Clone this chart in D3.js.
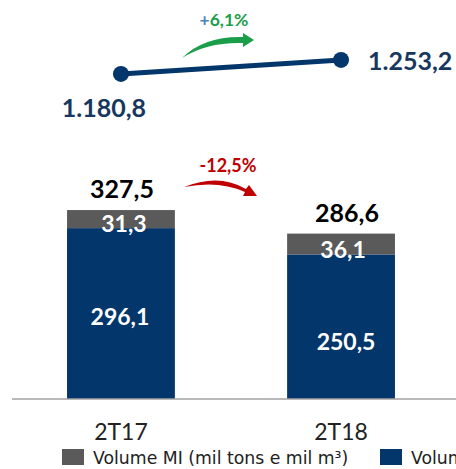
<!DOCTYPE html>
<html><head><meta charset="utf-8">
<script src="https://cdn.jsdelivr.net/npm/d3@7"></script>
<style>html,body{margin:0;padding:0;background:#fff;overflow:hidden}svg{display:block}</style>
</head><body><svg id="c" width="456" height="469"></svg>
<script>
const categories = ["2T17", "2T18"];
const volumeMI = [31.3, 36.1];
const volumeME = [296.1, 250.5];
const totals = [327.5, 286.6];
const lineValues = [1180.8, 1253.2];
const lineLabels = ["1.180,8", "1.253,2"];
const barLabelsMI = ["31,3", "36,1"];
const barLabelsME = ["296,1", "250,5"];
const totalLabels = ["327,5", "286,6"];
const changeLine = "+6,1%";
const changeBars = "-12,5%";
const legendLabels = ["Volume MI (mil tons e mil m³)", "Volume ME (mil tons e mil m³)"];

const FONT = "'Lato','Open Sans',sans-serif";
const BLUE = "#03366a", GRAY = "#5a5a5a", NAVY_TXT = "#17375e";
const svg = d3.select("#c");

const x = d3.scaleBand().domain(categories).range([3, 459]).paddingInner(0.51).paddingOuter(0.291);
const y = d3.scaleLinear().domain([0, 327.5]).range([399, 210]);
const yl = d3.scaleLinear().domain([0, 1400]).range([302.3, 31.5]);

const data = categories.map((c, i) => ({c, me: volumeME[i], mi: volumeMI[i], tot: totals[i], i}));

// bars
svg.selectAll(".me").data(data).join("rect")
  .attr("x", d => x(d.c)).attr("width", x.bandwidth())
  .attr("y", d => y(d.me)).attr("height", d => y(0) - y(d.me)).attr("fill", BLUE);
svg.selectAll(".mi").data(data).join("rect")
  .attr("x", d => x(d.c)).attr("width", x.bandwidth())
  .attr("y", d => y(d.me + d.mi)).attr("height", d => y(d.me) - y(d.me + d.mi)).attr("fill", GRAY);

// axis
const ax = svg.append("g").attr("transform", `translate(0,${y(0)})`)
  .call(d3.axisBottom(x).tickSize(0).tickPadding(25));
ax.select(".domain").attr("d", "M12,0H456").attr("stroke", "#a0a0a0").attr("stroke-width", 1.5);
ax.selectAll("text").attr("font-family", FONT).attr("font-size", 23).attr("fill", "#222").attr("dy", "0.71em");

// bar labels
const cx = d => x(d.c) + x.bandwidth() / 2;
svg.selectAll(".tl").data(data).join("text")
  .attr("x", d => cx(d) + (d.i ? 6 : 1)).attr("y", d => y(d.tot) - 12)
  .attr("text-anchor", "middle").attr("font-family", FONT).attr("font-weight", 700)
  .attr("font-size", 25).attr("fill", "#000").text(d => totalLabels[d.i]);
svg.selectAll(".mil").data(data).join("text")
  .attr("x", d => cx(d) + (d.i ? 2 : 3)).attr("y", d => y(d.me) + 4)
  .attr("text-anchor", "middle").attr("font-family", FONT).attr("font-weight", 700)
  .attr("font-size", 23).attr("fill", "#fff").text(d => barLabelsMI[d.i]);
svg.selectAll(".mel").data(data).join("text")
  .attr("x", d => cx(d) + (d.i ? 5 : -1)).attr("y", d => d.i ? 350 : 325)
  .attr("text-anchor", "middle").attr("font-family", FONT).attr("font-weight", 700)
  .attr("font-size", 23).attr("fill", "#fff").text(d => barLabelsME[d.i]);

// line
const lp = categories.map((c, i) => [x(c) + x.bandwidth() / 2, yl(lineValues[i])]);
svg.append("path").attr("d", d3.line()(lp)).attr("stroke", BLUE).attr("stroke-width", 5).attr("fill", "none");
svg.selectAll(".pt").data(lp).join("circle").attr("cx", d => d[0]).attr("cy", d => d[1]).attr("r", 8).attr("fill", BLUE);
svg.append("text").attr("x", lp[0][0] - 17).attr("y", lp[0][1] + 43).attr("text-anchor", "middle")
  .attr("font-family", FONT).attr("font-weight", 700).attr("font-size", 25).attr("fill", NAVY_TXT).text(lineLabels[0]);
svg.append("text").attr("x", lp[1][0] + 27).attr("y", lp[1][1] + 10).attr("text-anchor", "start")
  .attr("font-family", FONT).attr("font-weight", 700).attr("font-size", 25).attr("fill", NAVY_TXT).text(lineLabels[1]);

// change annotations
const mid = (lp[0][0] + lp[1][0]) / 2;
const gt = svg.append("text").attr("x", mid - 7).attr("y", 26).attr("text-anchor", "middle")
  .attr("font-family", FONT).attr("font-weight", 700).attr("font-size", 17.5).attr("fill", "#1a9e4a");
gt.append("tspan").attr("fill", "#4f81bd").text(changeLine[0]);
gt.append("tspan").text(changeLine.slice(1));
svg.append("text").attr("x", mid - 3).attr("y", 172).attr("text-anchor", "middle")
  .attr("font-family", FONT).attr("font-weight", 700).attr("font-size", 18).attr("fill", "#c00000").text(changeBars);

// green arrow
const g0 = mid - 49;
svg.append("path").attr("fill", "#1a9e4a")
  .attr("d", `M${g0},58 Q${g0+22},36 ${g0+61},37 L${g0+61},33 L${g0+72},40 L${g0+61},47 L${g0+61},43 Q${g0+25},42 ${g0},58 Z`);
// red arrow
const r0 = mid - 47;
svg.append("path").attr("fill", "#c00000")
  .attr("d", `M${r0},187 Q${r0+35},173 ${r0+62},189 L${r0+65},185 L${r0+73},196 L${r0+59},196 L${r0+61},192 Q${r0+35},180 ${r0},187 Z`);

// legend
const lg = svg.append("g");
legendLabels.forEach((t, i) => {
  const lx = i ? 380 : 62;
  lg.append("rect").attr("x", lx).attr("y", 449).attr("width", 22).attr("height", 16).attr("fill", i ? BLUE : GRAY);
  lg.append("text").attr("x", lx + 31).attr("y", 464).attr("font-family", "'DejaVu Sans',sans-serif")
    .attr("font-size", 17.3).attr("fill", "#222").text(t);
});
</script></body></html>
